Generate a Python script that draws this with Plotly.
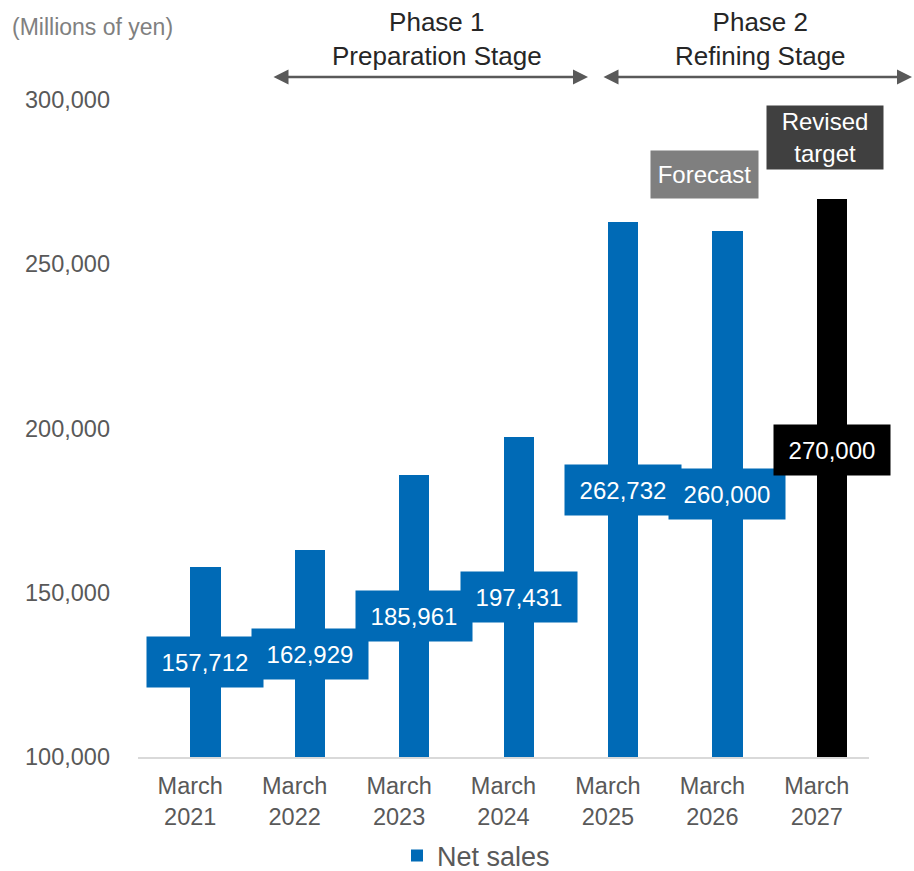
import plotly.graph_objects as go

categories = ["March<br>2021", "March<br>2022", "March<br>2023", "March<br>2024",
              "March<br>2025", "March<br>2026", "March<br>2027"]
net_sales = [157712, 162929, 185961, 197431, 262732, 260000, 270000]
value_labels = ["157,712", "162,929", "185,961", "197,431", "262,732", "260,000", "270,000"]
bar_colors = ["#006ab6"] * 6 + ["#000000"]
y_ticks = [100000, 150000, 200000, 250000, 300000]

FONT = "Liberation Sans, Arial, sans-serif"
BASE = 100000
LAST_LABEL_Y = 193500

fig = go.Figure()
fig.add_trace(go.Bar(
    x=list(range(len(categories))), y=net_sales, name="Net sales",
    marker=dict(color=bar_colors, line=dict(width=0)),
    width=0.29, offset=0.0, hoverinfo="skip", showlegend=True,
))

annotations = []
for i, (v, lab) in enumerate(zip(net_sales, value_labels)):
    ymid = (BASE + v) / 2 if i < len(net_sales) - 1 else LAST_LABEL_Y
    annotations.append(dict(
        x=i, y=ymid, xref="x", yref="y", xshift=15, text=lab, showarrow=False,
        font=dict(family=FONT, size=24, color="white"),
        bgcolor=bar_colors[i], width=114, height=48, align="center", valign="middle",
        xanchor="center", yanchor="middle",
    ))

# Forecast & Revised target boxes
annotations.append(dict(
    x=5, y=277300, xref="x", yref="y", xshift=-8, text="Forecast", showarrow=False,
    font=dict(family=FONT, size=24, color="white"), bgcolor="#7f7f7f",
    width=105, height=45, xanchor="center", yanchor="middle",
))
annotations.append(dict(
    x=6, y=288700, xref="x", yref="y", xshift=8, text="Revised<br>target", showarrow=False,
    font=dict(family=FONT, size=24, color="white"), bgcolor="#404040",
    width=114, height=61, xanchor="center", yanchor="middle",
))

# Phase labels
L, R, T, B = 138, 45, 100, 114
W, H = 914, 871
pw, ph = W - L - R, H - T - B
def px(xp):
    return (xp - L) / pw
def py(yp):
    return (H - B - yp) / ph

annotations.append(dict(
    x=px(437), y=py(39), xref="paper", yref="paper", text="Phase 1<br>Preparation Stage",
    showarrow=False, font=dict(family=FONT, size=26, color="#262626"),
    xanchor="center", yanchor="middle",
))
annotations.append(dict(
    x=px(760), y=py(39), xref="paper", yref="paper", text="Phase 2<br>Refining Stage",
    showarrow=False, font=dict(family=FONT, size=26, color="#262626"),
    xanchor="center", yanchor="middle",
))
# arrows
for x0, x1 in [(272, 588), (602, 912)]:
    annotations.append(dict(
        x=px(x1), y=py(77), xref="paper", yref="paper", ax=-(x1 - x0), ay=0,
        axref="pixel", ayref="pixel", text="", showarrow=True,
        arrowhead=2, startarrowhead=2, arrowside="end+start", arrowsize=1.2, startarrowsize=1.2,
        arrowwidth=2.5, arrowcolor="#595959",
    ))

annotations.append(dict(
    x=px(10), y=py(27), xref="paper", yref="paper", text="(Millions of yen)",
    showarrow=False, font=dict(family=FONT, size=23, color="#808080"),
    xanchor="left", yanchor="middle",
))

fig.update_layout(
    width=W, height=H, margin=dict(l=L, r=R, t=T, b=B, autoexpand=False),
    plot_bgcolor="white", paper_bgcolor="white",
    bargap=0, showlegend=True,
    legend=dict(orientation="h", x=px(397), y=py(856), xanchor="left", yanchor="middle",
                font=dict(family=FONT, size=27, color="#595959"), bgcolor="rgba(0,0,0,0)"),
    annotations=annotations,
    xaxis=dict(
        tickmode="array", tickvals=list(range(len(categories))), ticktext=categories,
        range=[-0.5, len(categories) - 0.5], showgrid=False, zeroline=False,
        showline=True, linecolor="#d9d9d9", linewidth=2, ticks="",
        tickfont=dict(family=FONT, size=23.5, color="#595959"), ticklabelstandoff=7,
    ),
    yaxis=dict(
        range=[100000, 300000], tickvals=y_ticks, tickformat=",",
        showgrid=False, zeroline=False, showline=False, ticks="",
        tickfont=dict(family=FONT, size=23.5, color="#595959"), ticklabelstandoff=27,
    ),
)

fig.write_html("out.html")
